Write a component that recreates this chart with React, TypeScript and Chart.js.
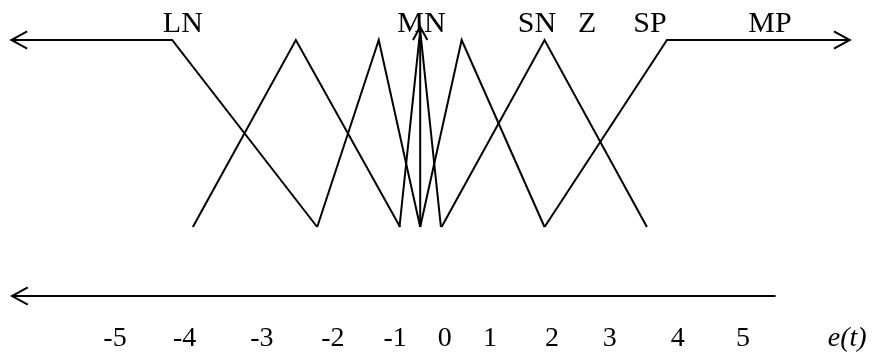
import React, { useEffect, useRef } from "react";
import { Chart, registerables } from "chart.js";

Chart.register(...registerables);

// ---- data (x in e(t) units, y in membership degree) ----
const lnX = [-6.65, -4.09, -1.78];
const lnY = [1, 1, 0];
const t1X = [-3.76, -2.12, -0.46];
const t1Y = [0, 1, 0];
const t2X = [-1.78, -0.8, -0.14];
const t2Y = [0, 1, 0];
const t3X = [-0.47, -0.14, 0.19];
const t3Y = [0, 1.05, 0];
const muAxisX = [-0.14, -0.14];
const muAxisY = [0, 1.07];
const t4X = [-0.14, 0.52, 1.84];
const t4Y = [0, 1, 0];
const t5X = [0.2, 1.84, 3.47];
const t5Y = [0, 1, 0];
const mpX = [1.84, 3.79, 6.7];
const mpY = [0, 1, 1];
const eAxisX = [5.52, -6.64];
const eAxisY = [-0.369, -0.369];

const termLabels = ["LN", "MN", "SN", "Z", "SP", "MP"];
const termX = [-3.92, -0.12, 1.72, 2.52, 3.52, 5.43];
const termY = 1.043;

const tickLabels = ["-5", "-4", "-3", "-2", "-1", "0", "1", "2", "3", "4", "5", "e(t)"];
const tickX = [-5, -3.89, -2.66, -1.53, -0.54, 0.25, 0.97, 1.96, 2.88, 3.96, 5.0, 6.66];

const X_MIN = -6.831;
const X_MAX = 7.102;
const Y_MIN = -0.4866;
const Y_MAX = 1.2139;

const SERIF = '"Liberation Serif", "Times New Roman", serif';
const LINE_W = 2;

function series(xs: number[], ys: number[], arrowSize = 0) {
  return {
    data: xs.map((x, i) => ({ x, y: ys[i] })),
    showLine: true,
    borderColor: "#000",
    borderWidth: LINE_W,
    pointRadius: 0,
    pointHoverRadius: 0,
    fill: false,
    tension: 0,
    arrowSize,
  };
}

const arrowPlugin = {
  id: "arrowHeads",
  afterDatasetsDraw(chart: any) {
    const ctx = chart.ctx;
    chart.data.datasets.forEach((ds: any, i: number) => {
      if (!ds.arrowSize) return;
      const pts = chart.getDatasetMeta(i).data;
      const a = pts[pts.length - 2];
      const b = pts[pts.length - 1];
      const ang = Math.atan2(b.y - a.y, b.x - a.x);
      const L = ds.arrowSize;
      const spread = 0.5;
      ctx.save();
      ctx.strokeStyle = "#000";
      ctx.lineWidth = LINE_W;
      ctx.beginPath();
      ctx.moveTo(b.x - L * Math.cos(ang - spread), b.y - L * Math.sin(ang - spread));
      ctx.lineTo(b.x, b.y);
      ctx.lineTo(b.x - L * Math.cos(ang + spread), b.y - L * Math.sin(ang + spread));
      ctx.stroke();
      ctx.restore();
    });
  },
};

const termPlugin = {
  id: "termLabels",
  afterDatasetsDraw(chart: any) {
    const ctx = chart.ctx;
    const xs = chart.scales.x;
    const ys = chart.scales.y;
    ctx.save();
    ctx.fillStyle = "#000";
    ctx.font = `30px ${SERIF}`;
    ctx.textAlign = "center";
    ctx.textBaseline = "alphabetic";
    termLabels.forEach((t, i) => {
      ctx.fillText(t, xs.getPixelForValue(termX[i]), ys.getPixelForValue(termY));
    });
    ctx.restore();
  },
};

export default function App() {
  const ref = useRef<HTMLCanvasElement | null>(null);

  useEffect(() => {
    if (!ref.current) return;
    const chart = new Chart(ref.current, {
      type: "scatter",
      data: {
        datasets: [
          series(lnX, lnY, 0) as any,
          series(t1X, t1Y) as any,
          series(t2X, t2Y) as any,
          series(t3X, t3Y) as any,
          series(muAxisX, muAxisY, 15) as any,
          series(t4X, t4Y) as any,
          series(t5X, t5Y) as any,
          series(mpX, mpY, 18) as any,
          series(eAxisX, eAxisY, 18) as any,
          series([lnX[1], lnX[0]], [lnY[1], lnY[0]], 18) as any,
        ],
      },
      options: {
        animation: false,
        responsive: false,
        devicePixelRatio: 1,
        layout: { padding: 0 },
        plugins: {
          legend: { display: false },
          tooltip: { enabled: false },
        },
        events: [],
        scales: {
          x: {
            type: "linear",
            min: X_MIN,
            max: X_MAX,
            grid: { display: false, drawTicks: false },
            border: { display: false },
            afterBuildTicks: (scale: any) => {
              scale.ticks = tickX.map((v) => ({ value: v }));
            },
            afterFit: (scale: any) => {
              scale.height = 36;
            },
            ticks: {
              autoSkip: false,
              maxRotation: 0,
              minRotation: 0,
              padding: 4,
              color: "#000",
              callback: (_v: any, i: number) => tickLabels[i],
              font: (c: any) => ({
                family: SERIF,
                size: 28,
                style: c.index === tickLabels.length - 1 ? "italic" : "normal",
              }),
            },
          },
          y: {
            type: "linear",
            display: false,
            min: Y_MIN,
            max: Y_MAX,
          },
        },
      },
      plugins: [arrowPlugin, termPlugin],
    } as any);
    return () => chart.destroy();
  }, []);

  return (
    <div style={{ position: "fixed", left: 0, top: 0, width: 875, height: 354, background: "#fff" }}>
      <canvas ref={ref} width={875} height={354} style={{ display: "block" }} />
    </div>
  );
}
